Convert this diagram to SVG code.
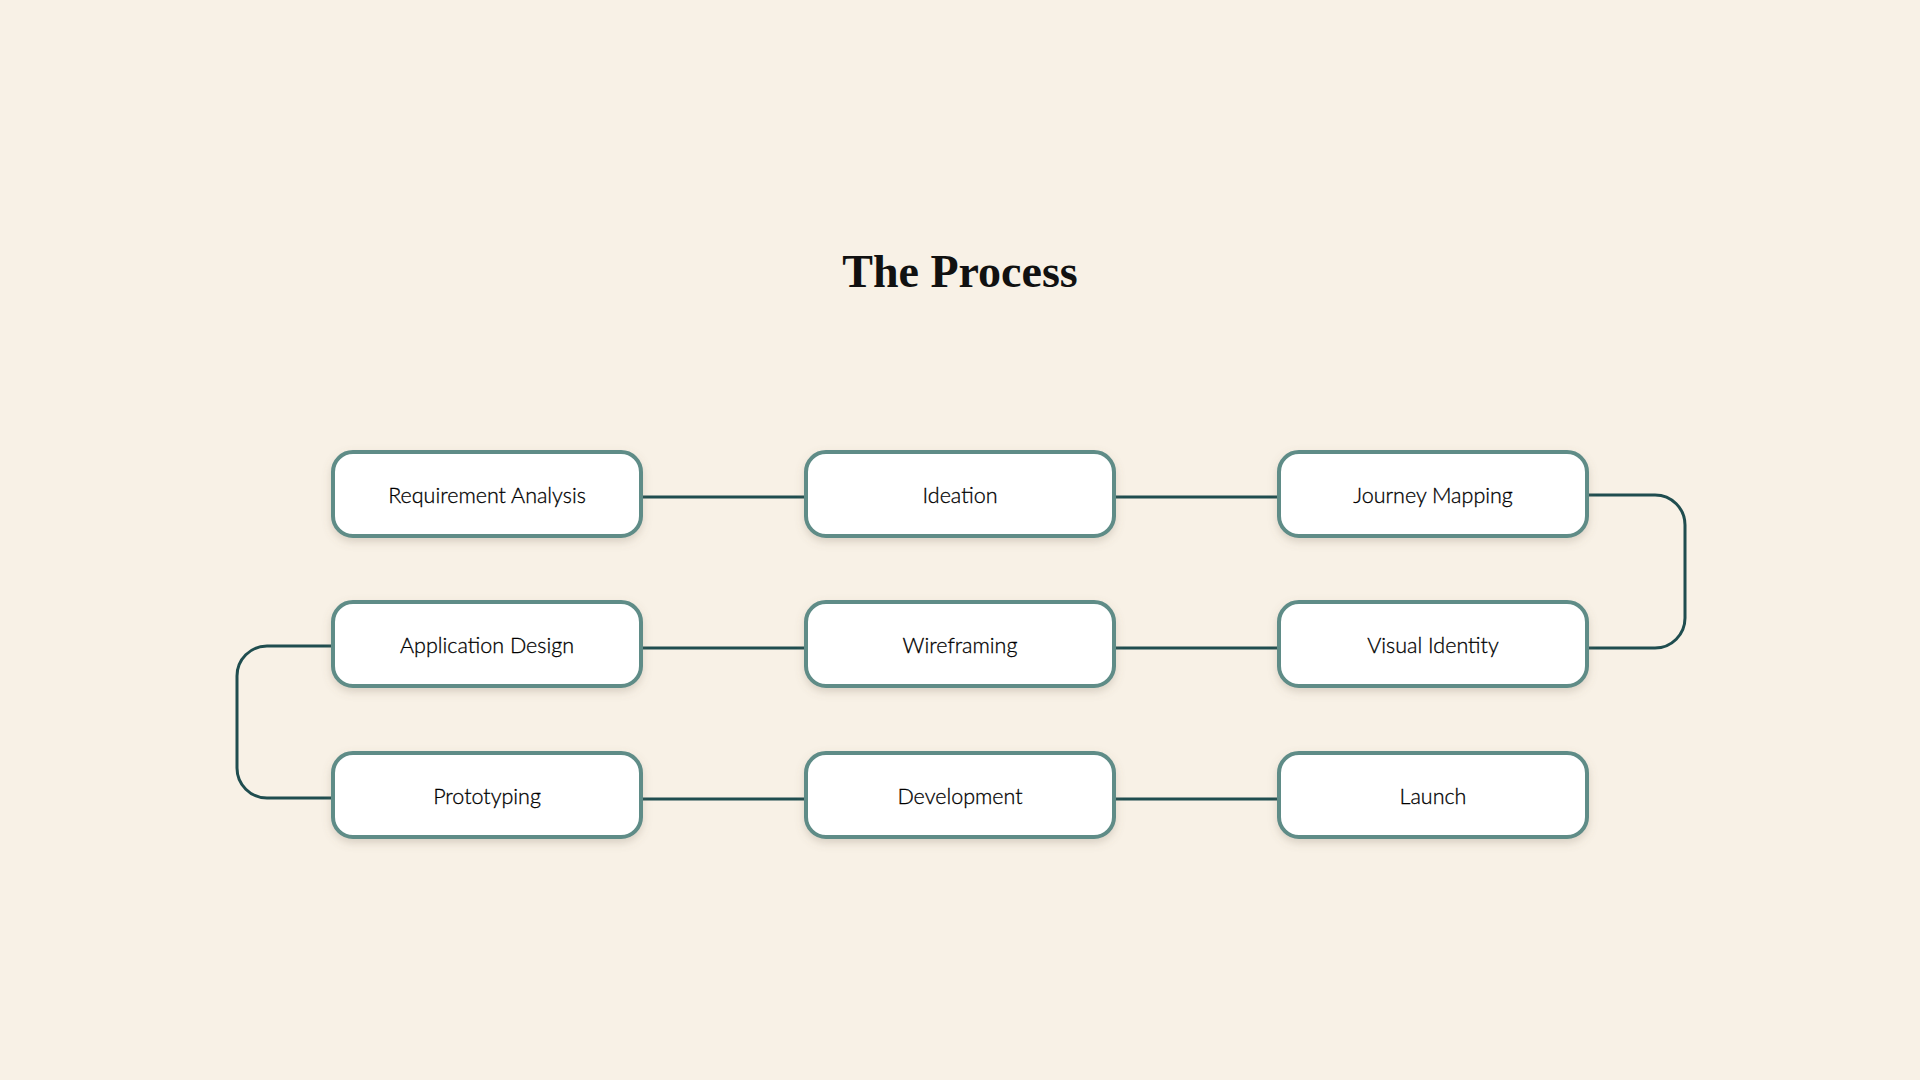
<svg xmlns="http://www.w3.org/2000/svg" width="1920" height="1080" viewBox="0 0 1920 1080">
<defs>
<filter id="sh" x="-10%" y="-20%" width="120%" height="150%">
<feDropShadow dx="0" dy="4" stdDeviation="4" flood-color="#7a6f5c" flood-opacity="0.25"/>
</filter>
<style>
.node rect{fill:#ffffff;stroke:#5e8c87;stroke-width:4;filter:url(#sh)}
.node text{font-family:Lato,"Noto Sans",sans-serif;font-weight:300;font-size:21.5px;fill:#000000;stroke:#000000;stroke-width:0.3;text-anchor:middle}
.conn path{fill:none;stroke:#1f4d4f;stroke-width:3}
.title{font-family:"Liberation Serif",serif;font-weight:bold;font-size:46px;fill:#111111;text-anchor:middle}
</style>
</defs>
<rect width="1920" height="1080" fill="#f8f1e6"/>
<text class="title" x="960" y="287">The Process</text>
<g id="connectors" class="conn">
<path d="M641 497H806"/>
<path d="M1114 497H1279"/>
<path d="M1587 495H1655A30 30 0 0 1 1685 525V618A30 30 0 0 1 1655 648H1587"/>
<path d="M1279 648H1114"/>
<path d="M806 648H641"/>
<path d="M333 646H267A30 30 0 0 0 237 676V768A30 30 0 0 0 267 798H333"/>
<path d="M641 799H806"/>
<path d="M1114 799H1279"/>
</g>
<g id="n1" class="node"><rect x="333" y="452" width="308" height="84" rx="20"/><text x="487" y="503">Requirement Analysis</text></g>
<g id="n2" class="node"><rect x="806" y="452" width="308" height="84" rx="20"/><text x="960" y="503">Ideation</text></g>
<g id="n3" class="node"><rect x="1279" y="452" width="308" height="84" rx="20"/><text x="1433" y="503">Journey Mapping</text></g>
<g id="n4" class="node"><rect x="333" y="602" width="308" height="84" rx="20"/><text x="487" y="653">Application Design</text></g>
<g id="n5" class="node"><rect x="806" y="602" width="308" height="84" rx="20"/><text x="960" y="653">Wireframing</text></g>
<g id="n6" class="node"><rect x="1279" y="602" width="308" height="84" rx="20"/><text x="1433" y="653">Visual Identity</text></g>
<g id="n7" class="node"><rect x="333" y="753" width="308" height="84" rx="20"/><text x="487" y="804">Prototyping</text></g>
<g id="n8" class="node"><rect x="806" y="753" width="308" height="84" rx="20"/><text x="960" y="804">Development</text></g>
<g id="n9" class="node"><rect x="1279" y="753" width="308" height="84" rx="20"/><text x="1433" y="804">Launch</text></g>
</svg>
